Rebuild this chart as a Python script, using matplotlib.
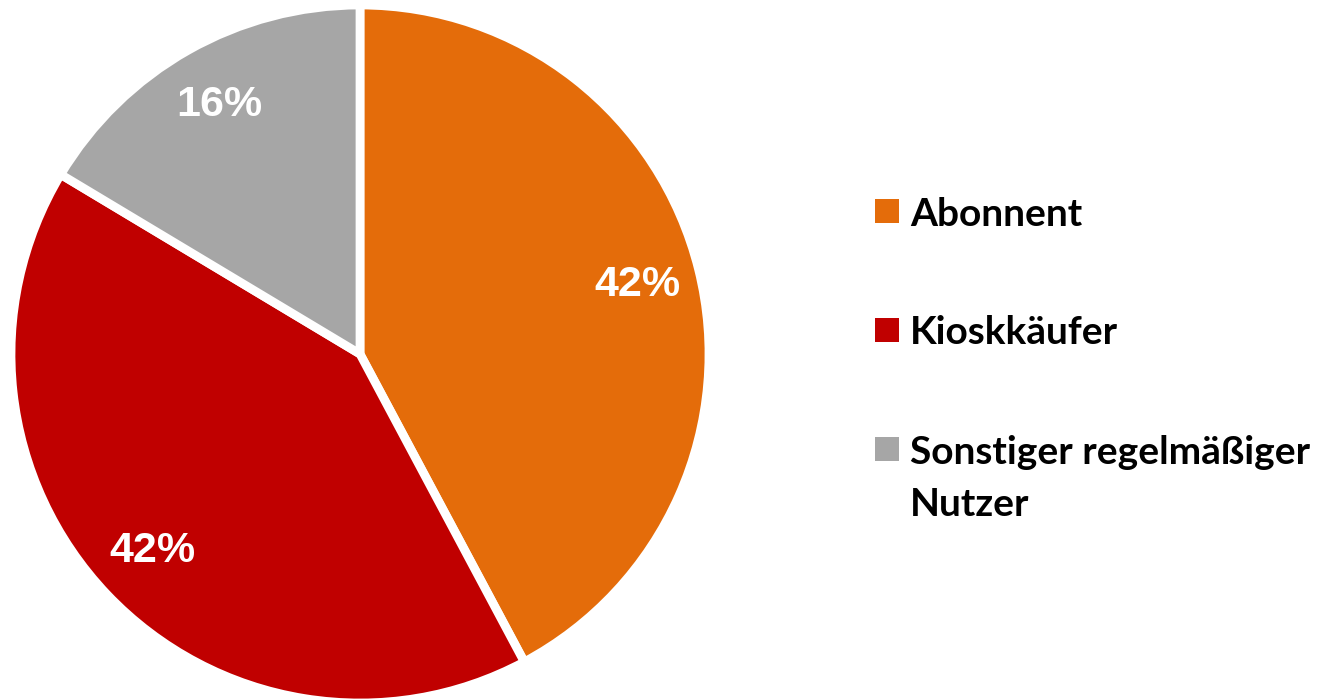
import matplotlib.pyplot as plt
from matplotlib.patches import Rectangle

# chart data (slice sizes, labels as printed)
labels = ['Abonnent', 'Kioskkäufer', 'Sonstiger regelmäßiger\nNutzer']
shares = [42.2, 41.4, 16.4]
pct_labels = ['42%', '42%', '16%']
colors = ['#E46C0A', '#C00000', '#A6A6A6']

W, H = 1330, 699
fig = plt.figure(figsize=(W / 100, H / 100), dpi=100)

# pie axes: center (360, 354) px, radius ~349 px incl. white edge
cx, cy, r = 360, 354, 349
ax = fig.add_axes([(cx - r) / W, (H - cy - r) / H, 2 * r / W, 2 * r / H])
wedges, texts = ax.pie(shares, colors=colors, labels=pct_labels,
                       startangle=90, counterclock=False, labeldistance=0.82,
                       wedgeprops=dict(edgecolor='white', linewidth=6.3),
                       textprops=dict(color='white', fontweight='bold',
                                      fontsize=31, family='Liberation Sans'))
for t in texts:
    t.set_ha('center')
    t.set_va('center')
ax.set_xlim(-1, 1)
ax.set_ylim(-1, 1)
ax.axis('off')

# legend drawn by hand so the square lines up with the first text line
row_y = [211, 330, 449]
sq = 24
for lab, col, y in zip(labels, colors, row_y):
    fig.patches.append(Rectangle((875 / W, (H - y - sq / 2) / H), sq / W, sq / H,
                                 transform=fig.transFigure, facecolor=col,
                                 edgecolor='none'))
    for i, line in enumerate(lab.split('\n')):
        fig.text(910 / W, (H - y - 52 * i) / H, line, ha='left',
                 va='center_baseline', fontsize=28, fontweight='bold',
                 family='Lato')

fig.savefig('out.png', dpi=100)
